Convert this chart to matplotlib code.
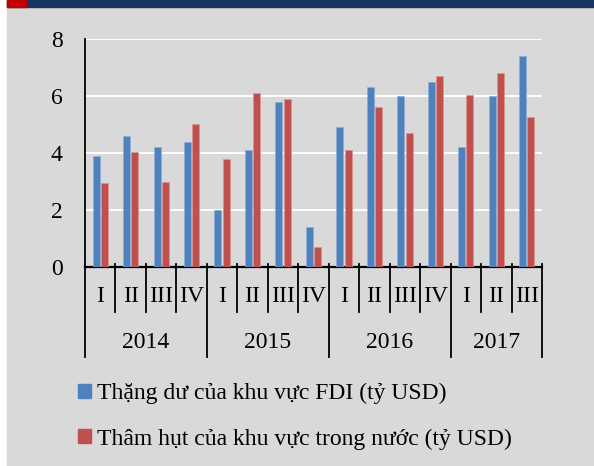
import matplotlib.pyplot as plt
from matplotlib.patches import Rectangle
import numpy as np

years = ['2014', '2015', '2016', '2017']
quarters = [['I', 'II', 'III', 'IV'], ['I', 'II', 'III', 'IV'],
            ['I', 'II', 'III', 'IV'], ['I', 'II', 'III']]
fdi_surplus = [3.9, 4.6, 4.2, 4.4, 2.0, 4.1, 5.8, 1.4,
               4.9, 6.3, 6.0, 6.5, 4.2, 6.0, 7.4]
domestic_deficit = [2.95, 4.05, 3.0, 5.02, 3.8, 6.1, 5.9, 0.7,
                    4.1, 5.6, 4.7, 6.7, 6.05, 6.8, 5.25]
labels = ['Thặng dư của khu vực FDI (tỷ USD)',
          'Thâm hụt của khu vực trong nước (tỷ USD)']

BLUE = '#4f81bd'
RED = '#c0504d'
BG = '#d9d9d9'
FONT = 'Liberation Serif'

W, H = 594, 466
fig = plt.figure(figsize=(W / 100, H / 100), dpi=100, facecolor='white')

# background panel, top band and red marker
fig.patches.append(Rectangle((7 / W, 0), 1, 1, transform=fig.transFigure,
                             color=BG, zorder=-3))
fig.patches.append(Rectangle((7 / W, 1 - 7 / H), 1, 7 / H, transform=fig.transFigure,
                             color='#17365d', zorder=-2))
fig.patches.append(Rectangle((7 / W, 1 - 7 / H), 19 / W, 7 / H, transform=fig.transFigure,
                             color='#c00000', zorder=-1))

x0, x1, y0, y1 = 85, 542, 267, 39
ax = fig.add_axes([x0 / W, 1 - y0 / H, (x1 - x0) / W, (y0 - y1) / H])
ax.set_facecolor('none')

n = len(fdi_surplus)
x = np.arange(n)
bw = 0.23
ax.bar(x - 0.135, fdi_surplus, bw, color=BLUE, edgecolor='#8fb0d8', linewidth=0.5, zorder=3)
ax.bar(x + 0.135, domestic_deficit, bw, color=RED, edgecolor='#d99694', linewidth=0.5, zorder=3)

ax.set_xlim(-0.5, n - 0.5)
ax.set_ylim(0, 8)
ax.set_yticks([0, 2, 4, 6, 8])
ax.set_yticklabels(['0', '2', '4', '6', '8'], fontsize=17, family=FONT)
ax.tick_params(axis='y', length=0, pad=16)
ax.set_xticks([])
ax.grid(axis='y', color='white', linewidth=1.4, zorder=0)
for s in ['top', 'right']:
    ax.spines[s].set_visible(False)
ax.spines['left'].set_linewidth(1.3)
ax.spines['bottom'].set_linewidth(1.6)

# multi-level category axis
upp = 8 / (y0 - y1)  # data units per pixel
q_bot = -(312 - y0) * upp
y_bot = -(357 - y0) * upp
q_lab = -(297 - y0) * upp
y_lab = -(342 - y0) * upp
i = 0
for yr, qs in zip(years, quarters):
    start = i
    for q in qs:
        ax.text(i, q_lab, q, ha='center', va='center', fontsize=17, family=FONT, clip_on=False)
        if i != start:
            ax.plot([i - 0.5, i - 0.5], [0.1, q_bot], color='black', lw=1.3, clip_on=False)
        i += 1
    ax.plot([start - 0.5, start - 0.5], [0.1, y_bot], color='black', lw=1.3, clip_on=False)
    ax.text((start + i - 1) / 2, y_lab, yr, ha='center', va='center', fontsize=17,
            family=FONT, clip_on=False)
ax.plot([i - 0.5, i - 0.5], [0.1, y_bot], color='black', lw=1.3, clip_on=False)

handles = [Rectangle((0, 0), 1, 1, color=BLUE), Rectangle((0, 0), 1, 1, color=RED)]
fig.legend(handles, labels, loc='upper left', bbox_to_anchor=(57 / W, 1 - 362 / H),
           frameon=False, prop={'family': FONT, 'size': 17},
           handlelength=0.55, handleheight=0.55, handletextpad=0.25, labelspacing=1.02)

fig.savefig('out.png', dpi=100, facecolor='white')
